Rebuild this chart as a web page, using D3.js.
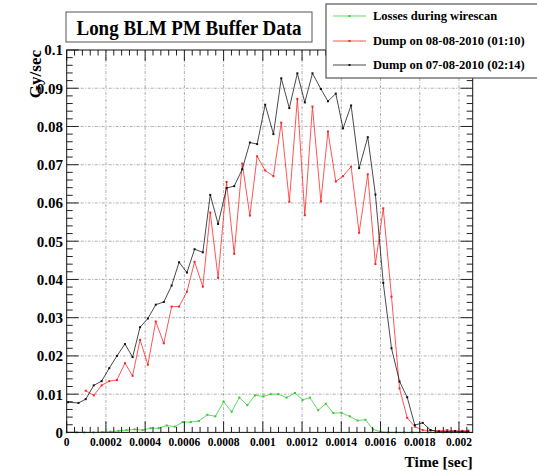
<!DOCTYPE html>
<html><head><meta charset="utf-8">
<script src="https://cdn.jsdelivr.net/npm/d3@7"></script>
<style>
html,body{margin:0;padding:0;background:#fff;}
svg{display:block;}
text{font-family:"Liberation Serif","Times New Roman",serif;font-weight:bold;fill:#000;}
</style></head>
<body>
<svg id="chart" width="537" height="471"></svg>
<script>
// ---- data ----
const titleText = "Long BLM PM Buffer Data";
const xTitle = "Time [sec]";
const yTitle = "Gy/sec";
const seriesNames = ["Losses during wirescan", "Dump on 08-08-2010 (01:10)", "Dump on 07-08-2010 (02:14)"];
const seriesColors = ["#33cc33", "#ff2020", "#111111"];
const xTicks = [0,0.0002,0.0004,0.0006,0.0008,0.001,0.0012,0.0014,0.0016,0.0018,0.002];
const xTickLabels = ["0","0.0002","0.0004","0.0006","0.0008","0.001","0.0012","0.0014","0.0016","0.0018","0.002"];
const yTicks = [0,0.01,0.02,0.03,0.04,0.05,0.06,0.07,0.08,0.09,0.1];
const yTickLabels = ["0","0.01","0.02","0.03","0.04","0.05","0.06","0.07","0.08","0.09","0.1"];

const greenT = [0,0.00005,0.00009,0.000137,0.000182,0.000223,0.000264,0.000305,0.000346,0.000387,
  0.000428,0.000469,0.00051,0.000551,0.000592,0.000633,0.000674,0.000717,0.000758,0.0008,
  0.000841,0.00088,0.000921,0.00096,0.001003,0.00104,0.001079,0.001121,0.001164,0.001203,
  0.00124,0.001282,0.001321,0.001359,0.001401,0.001444,0.001483,0.001523,0.001561,0.0016,
  0.00164,0.00168,0.00172,0.00176,0.0018,0.00184,0.00188,0.00192,0.00196,0.002,0.00204];
const greenV = [0,0,0,0,0.0001,0.0002,0.0004,0.0006,0.0008,0.0006,
  0.0011,0.0011,0.0018,0.0015,0.0027,0.0027,0.0030,0.0046,0.0042,0.0080,
  0.0054,0.0091,0.0071,0.0097,0.0094,0.0100,0.0100,0.0091,0.0103,0.0085,
  0.0091,0.0058,0.0075,0.0051,0.0051,0.0042,0.0031,0.0033,0.0008,0.0002,
  0,0,0,0,0,0,0,0,0,0,0];

const dumpT = [0.000007,0.00006,0.000097,0.000138,0.000178,0.000217,0.000256,0.000297,0.000336,0.000374,
  0.000414,0.000454,0.000495,0.000535,0.000573,0.000613,0.000652,0.000694,0.000732,0.000772,
  0.000815,0.000854,0.000895,0.000934,0.000971,0.001012,0.001054,0.001094,0.001135,0.001176,
  0.001214,0.001253,0.001296,0.001332,0.001372,0.001409,0.00145,0.001491,0.001535,0.001574,
  0.001614,0.001656,0.001697,0.001736,0.001775,0.001815,0.001855,0.001898,0.00194,0.00198,
  0.002017,0.002048];
const blackV = [0.0079,0.0077,0.0087,0.0123,0.0134,0.0168,0.0200,0.0231,0.0197,0.0275,
  0.0298,0.0334,0.0341,0.0384,0.0445,0.0418,0.0479,0.0471,0.0621,0.0545,
  0.0639,0.0644,0.0688,0.0758,0.0754,0.0857,0.0780,0.0926,0.0848,0.0939,
  0.0863,0.0939,0.0898,0.0866,0.0886,0.0795,0.0855,0.0691,0.0772,0.0622,
  0.0391,0.0220,0.0133,0.0092,0.0019,0.0025,0.0006,0.0002,0.0002,0.0003,
  0.0002,0.0002];
// red series starts at the 3rd sample time
const redT = dumpT.slice(2);
const redV = [0.0109,0.0097,0.0123,0.0134,0.0137,0.0181,0.0148,0.0242,
  0.0177,0.0290,0.0233,0.0329,0.0329,0.0368,0.0446,0.0381,0.0575,0.0404,
  0.0655,0.0467,0.0703,0.0567,0.0722,0.0685,0.0670,0.0810,0.0603,0.0872,
  0.0568,0.0852,0.0604,0.0787,0.0656,0.0670,0.0695,0.0522,0.0675,0.0440,
  0.0586,0.0355,0.0115,0.0038,0.0015,0.0006,0.0005,0.0004,0.0006,0.0004,
  0.0004,0.0005];

// ---- layout ----
const L = 66.7, R = 472.7, T = 50, B = 432.4;
const x = d3.scaleLinear().domain([0, 0.00207]).range([L, R]);
const y = d3.scaleLinear().domain([0, 0.1]).range([B, T]);
const svg = d3.select("#chart");

// grid
const grid = svg.append("g").attr("stroke", "#9a9a9a").attr("stroke-width", 0.8).attr("stroke-dasharray", "3,1.5,1,1.5");
grid.selectAll("line.gx").data(xTicks.filter(d => d > 0)).enter().append("line")
  .attr("x1", d => x(d)).attr("x2", d => x(d)).attr("y1", T).attr("y2", B);
grid.selectAll("line.gy").data(yTicks.filter(d => d > 0 && d < 0.1)).enter().append("line")
  .attr("x1", L).attr("x2", R).attr("y1", d => y(d)).attr("y2", d => y(d));

// series
const series = [
  {t: greenT, v: greenV, c: seriesColors[0]},
  {t: redT, v: redV, c: seriesColors[1]},
  {t: dumpT, v: blackV, c: seriesColors[2]}
];
const line = d3.line().x(d => x(d[0])).y(d => y(d[1]));
series.forEach(s => {
  const pts = s.t.map((t, i) => [t, s.v[i]]);
  svg.append("path").attr("d", line(pts)).attr("fill", "none").attr("stroke", s.c)
    .attr("stroke-width", 0.9).attr("stroke-opacity", 0.85);
  svg.append("g").selectAll("rect").data(pts).enter().append("rect")
    .attr("x", d => x(d[0]) - 1).attr("y", d => y(d[1]) - 1).attr("width", 2).attr("height", 2)
    .attr("fill", s.c);
});

// frame + ticks
const axG = svg.append("g");
const xMinor = d3.range(0, 0.00207 + 1e-9, 0.00004);
const yMinor = d3.range(0, 0.1 + 1e-9, 0.002);
const tg = axG.append("g").attr("stroke", "#222").attr("stroke-width", 1);
xMinor.forEach(v => {
  const isMaj = Math.abs(v / 0.0002 - Math.round(v / 0.0002)) < 1e-6;
  const len = isMaj ? 11 : 5.5;
  tg.append("line").attr("x1", x(v)).attr("x2", x(v)).attr("y1", B).attr("y2", B - len);
  tg.append("line").attr("x1", x(v)).attr("x2", x(v)).attr("y1", T).attr("y2", T + len);
});
yMinor.forEach(v => {
  const isMaj = Math.abs(v / 0.01 - Math.round(v / 0.01)) < 1e-6;
  const len = isMaj ? 12 : 6;
  tg.append("line").attr("y1", y(v)).attr("y2", y(v)).attr("x1", L).attr("x2", L + len);
  tg.append("line").attr("y1", y(v)).attr("y2", y(v)).attr("x1", R).attr("x2", R - len);
});
axG.append("rect").attr("x", L).attr("y", T).attr("width", R - L).attr("height", B - T)
  .attr("fill", "none").attr("stroke", "#111").attr("stroke-width", 1);

// tick labels
svg.append("g").selectAll("text").data(yTicks).enter().append("text")
  .attr("x", 63).attr("y", d => y(d)).attr("dy", "0.36em").attr("text-anchor", "end")
  .attr("font-size", 15).text((d, i) => yTickLabels[i]);
svg.append("g").selectAll("text").data(xTicks).enter().append("text")
  .attr("x", d => x(d)).attr("y", 446).attr("text-anchor", "middle")
  .attr("font-size", 11.5).text((d, i) => xTickLabels[i]);

// axis titles
svg.append("text").attr("transform", "translate(41," + T + ") rotate(-90)")
  .attr("text-anchor", "end").attr("font-size", 17).text(yTitle);
svg.append("text").attr("x", R).attr("y", 467).attr("text-anchor", "end")
  .attr("font-size", 15.5).text(xTitle);

// title box
svg.append("rect").attr("x", 66).attr("y", 12).attr("width", 246).attr("height", 30)
  .attr("fill", "#fff").attr("stroke", "#555").attr("stroke-width", 1);
svg.append("text").attr("x", 189).attr("y", 35).attr("text-anchor", "middle")
  .attr("font-size", 21).attr("textLength", 225).attr("lengthAdjust", "spacingAndGlyphs").text(titleText);

// legend
const lg = svg.append("g");
lg.append("rect").attr("x", 326).attr("y", 4).attr("width", 230).attr("height", 74)
  .attr("fill", "#fff").attr("stroke", "#555").attr("stroke-width", 1.2);
const legY = [16, 41, 65];
seriesNames.forEach((n, i) => {
  lg.append("line").attr("x1", 333).attr("x2", 366).attr("y1", legY[i]).attr("y2", legY[i])
    .attr("stroke", seriesColors[i]).attr("stroke-width", 0.9).attr("stroke-opacity", 0.85);
  lg.append("rect").attr("x", 348.5).attr("y", legY[i] - 1).attr("width", 2).attr("height", 2).attr("fill", seriesColors[i]);
  lg.append("text").attr("x", 373).attr("y", legY[i]).attr("dy", "0.35em")
    .attr("font-size", 12.5).text(n);
});
</script>
</body></html>
